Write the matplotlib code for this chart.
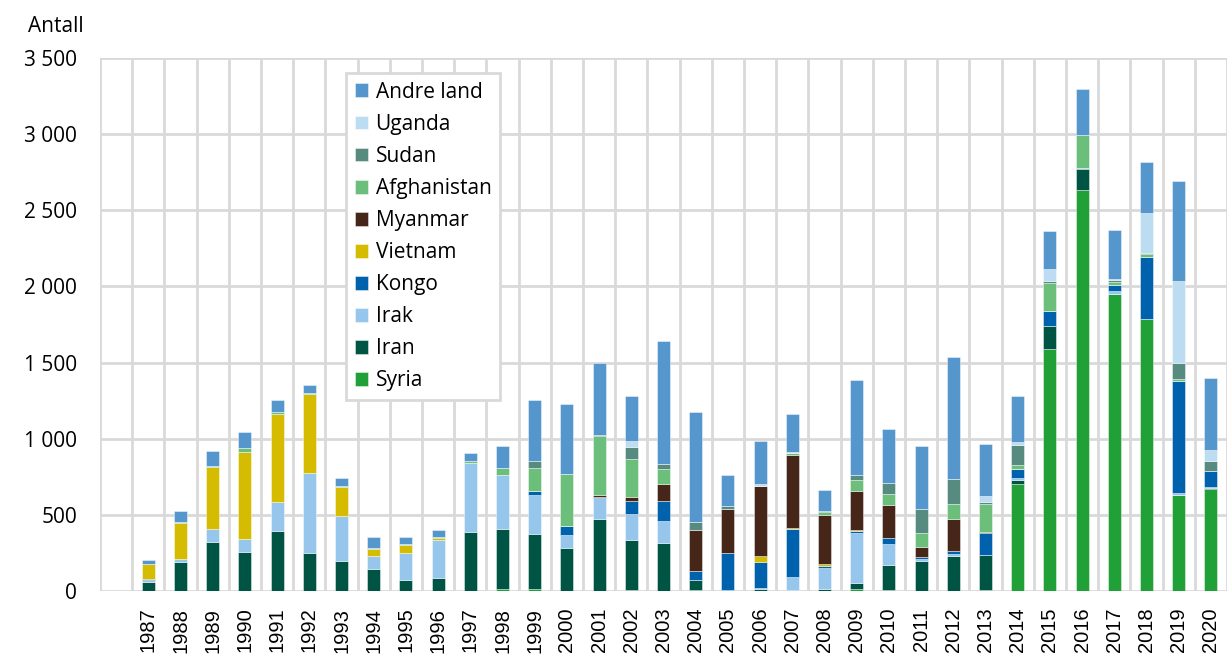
import numpy as np
import matplotlib.pyplot as plt
from matplotlib.ticker import FuncFormatter, FixedLocator

years = [str(y) for y in range(1987, 2021)]

# values per country, 1987 .. 2020
syria = [0, 0, 0, 0, 0, 0, 0, 0, 0, 0, 0, 13, 13, 0, 0, 8, 0, 8, 0, 0,
         0, 0, 13, 9, 0, 0, 9, 705, 1586, 2634, 1952, 1789, 628, 669]
iran = [61, 190, 322, 256, 394, 252, 197, 147, 74, 88, 390, 394, 361, 285, 475, 325, 315, 66, 8, 13,
        9, 13, 42, 162, 197, 230, 230, 22, 153, 140, 0, 0, 0, 9]
irak = [13, 22, 83, 83, 191, 520, 294, 83, 178, 245, 451, 353, 259, 85, 136, 171, 143, 0, 0, 7,
        85, 138, 326, 136, 11, 15, 0, 17, 0, 0, 18, 0, 18, 5]
kongo = [7, 0, 0, 0, 0, 5, 0, 0, 0, 0, 0, 0, 24, 59, 5, 85, 131, 57, 239, 168,
         311, 15, 15, 43, 15, 18, 144, 57, 100, 5, 40, 402, 734, 103]
vietnam = [99, 237, 410, 576, 580, 519, 192, 48, 52, 15, 0, 0, 0, 0, 0, 0, 0, 0, 0, 44,
           9, 9, 5, 0, 0, 0, 0, 0, 0, 0, 0, 0, 0, 0]
myanmar = [0, 0, 0, 0, 0, 0, 0, 0, 0, 0, 0, 0, 0, 0, 13, 26, 114, 270, 294, 460,
           480, 324, 254, 217, 66, 210, 4, 0, 0, 0, 0, 0, 0, 0]
afghanistan = [0, 6, 6, 27, 11, 5, 7, 6, 7, 4, 15, 48, 151, 342, 387, 254, 101, 0, 0, 0,
               10, 20, 72, 68, 90, 101, 184, 25, 181, 216, 19, 23, 12, 5]
sudan = [0, 0, 0, 0, 0, 0, 0, 0, 0, 0, 0, 0, 44, 0, 5, 77, 33, 52, 20, 0,
         0, 9, 37, 75, 162, 164, 16, 131, 13, 0, 11, 7, 106, 61]
uganda = [0, 0, 0, 0, 0, 0, 0, 0, 0, 0, 0, 0, 0, 0, 0, 37, 0, 0, 0, 8,
          8, 0, 0, 0, 0, 0, 37, 22, 79, 0, 9, 259, 540, 74]
andre = [26, 68, 97, 100, 77, 52, 50, 73, 42, 47, 48, 147, 401, 460, 473, 300, 806, 723, 203, 286,
         249, 138, 620, 352, 409, 799, 342, 302, 251, 299, 323, 337, 657, 470]

series = [
    ('Syria', syria, '#21a038'),
    ('Iran', iran, '#005444'),
    ('Irak', irak, '#97c6ec'),
    ('Kongo', kongo, '#0062ad'),
    ('Vietnam', vietnam, '#d6bc00'),
    ('Myanmar', myanmar, '#47261a'),
    ('Afghanistan', afghanistan, '#6cbf7a'),
    ('Sudan', sudan, '#578b80'),
    ('Uganda', uganda, '#bcdcf2'),
    ('Andre land', andre, '#5596cc'),
]

plt.rcParams['font.family'] = ['Open Sans', 'DejaVu Sans']

fig = plt.figure(figsize=(12.27, 6.57), dpi=100)
ax = fig.add_axes([0.0815, 0.1005, 0.9185, 0.8112])

x = np.arange(len(years))
bottom = np.zeros(len(years))
handles = []
for name, vals, col in series:
    vals = np.array(vals, dtype=float)
    b = ax.bar(x, vals, 0.4, bottom=bottom, color=col, label=name,
               edgecolor=(1, 1, 1, 0.5), linewidth=0.6, zorder=3)
    handles.append(b)
    bottom += vals

ax.set_xlim(-1.5, len(years) - 0.5)
ax.set_ylim(0, 3500)
ax.set_yticks(np.arange(0, 3501, 500))
ax.yaxis.set_major_formatter(FuncFormatter(lambda v, p: f'{int(v):,}'.replace(',', ' ')))
ax.set_xticks(x)
ax.set_xticklabels(years, rotation=90, fontsize=14.5, family='Liberation Sans')
ax.xaxis.set_minor_locator(FixedLocator(np.arange(-1.5, len(years), 1.0)))
ax.tick_params(axis='both', which='both', length=0)
ax.tick_params(axis='y', labelsize=15, pad=16.5)
ax.tick_params(axis='x', pad=12)
ax.grid(axis='y', which='major', color='#d9d9d9', linewidth=2, zorder=0)
ax.grid(axis='x', which='minor', color='#d9d9d9', linewidth=2, zorder=0)
ax.grid(axis='x', which='major', visible=False)
ax.set_axisbelow(True)
for s in ax.spines.values():
    s.set_visible(False)

fig.text(0.023, 0.960, 'Antall', fontsize=15, va='center', ha='left')

leg = ax.legend(handles[::-1], [s[0] for s in series][::-1],
                loc='upper left', bbox_to_anchor=(346 / 1227, 1 - 73 / 657),
                bbox_transform=fig.transFigure, borderaxespad=0,
                fontsize=15, handlelength=0.65, handleheight=0.65,
                handletextpad=0.35, labelspacing=0.53, borderpad=0.42,
                fancybox=False, framealpha=1, edgecolor='#d9d9d9')
leg.get_frame().set_linewidth(2)
leg.set_zorder(5)

fig.savefig('out.png', dpi=100)
